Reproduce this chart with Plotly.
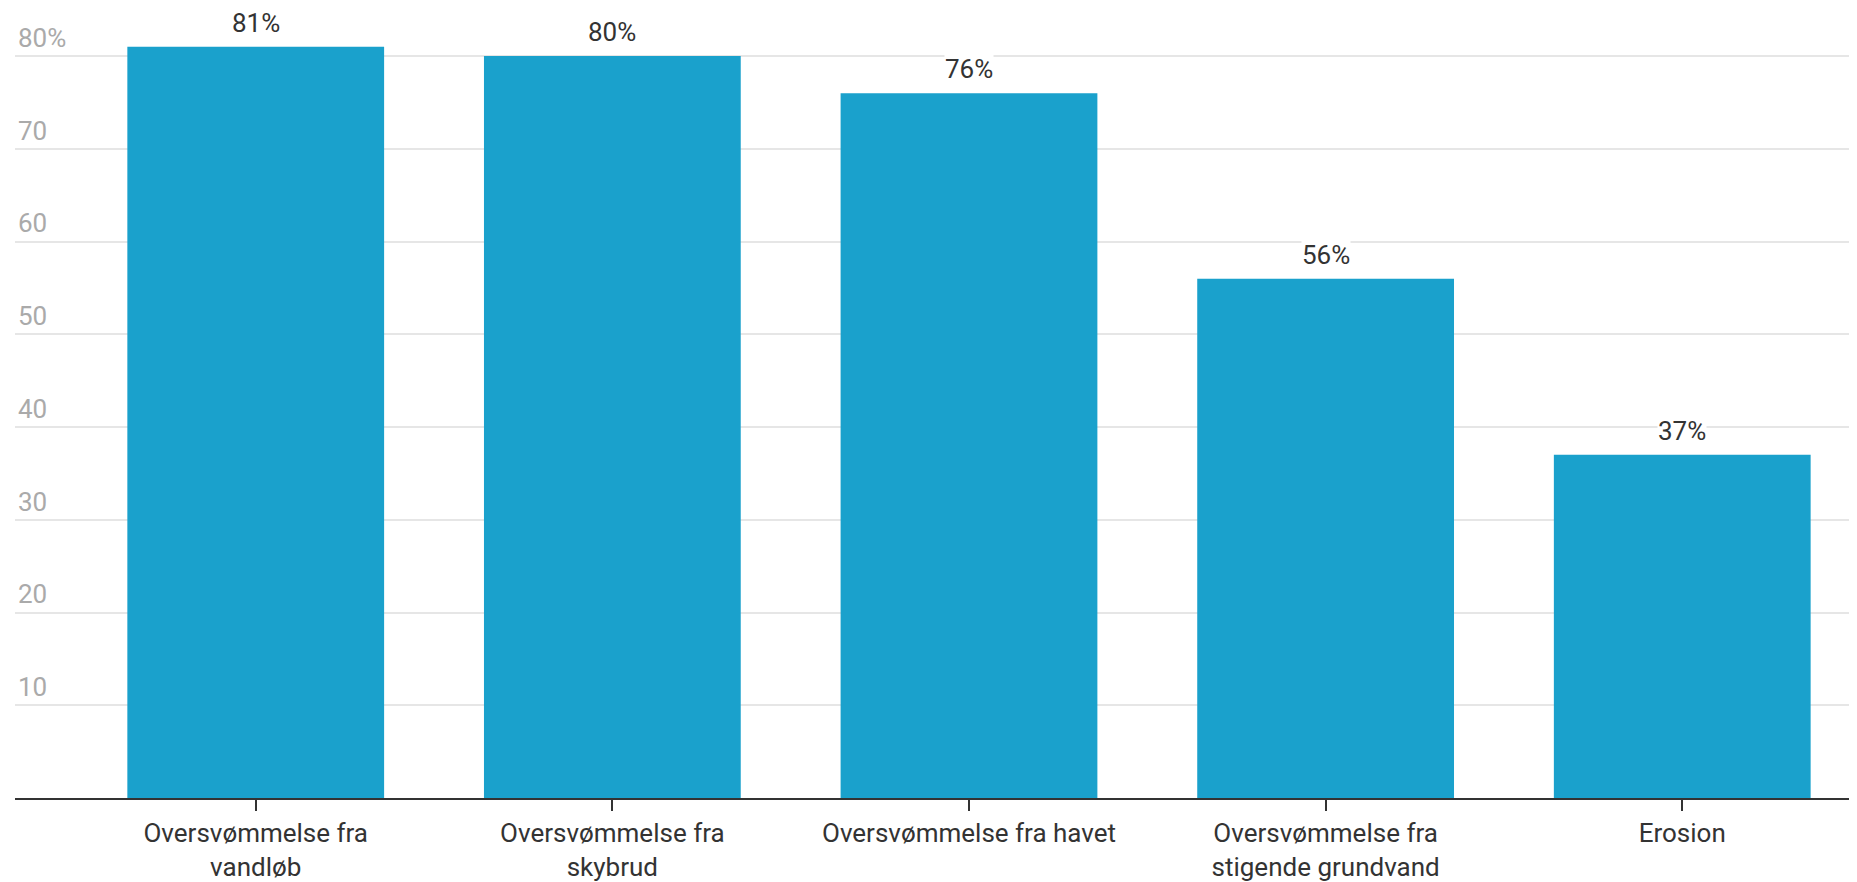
import plotly.graph_objects as go

# Data
categories = [
    "Oversvømmelse fra<br>vandløb",
    "Oversvømmelse fra<br>skybrud",
    "Oversvømmelse fra havet",
    "Oversvømmelse fra<br>stigende grundvand",
    "Erosion",
]
values = [81, 80, 76, 56, 37]

tick_vals = [10, 20, 30, 40, 50, 60, 70, 80]
tick_text = ["10", "20", "30", "40", "50", "60", "70", "80%"]

bar_color = "#1aa1cc"
font_family = "Roboto"

fig = go.Figure()
fig.add_trace(go.Bar(
    x=categories,
    y=values,
    marker=dict(color=bar_color, line=dict(width=0)),
    hoverinfo="skip",
))

# value labels above bars, white background hides the gridlines behind text
for c, v in zip(categories, values):
    fig.add_annotation(
        x=c, y=v, text=f"{v}%",
        showarrow=False, yanchor="bottom", yshift=8,
        bgcolor="white", borderpad=0,
        font=dict(family=font_family, size=26, color="#333333"),
    )

# page body has an 8px margin, so the figure is a bit smaller than the window
fig.update_layout(
    width=1849, height=874,
    margin=dict(l=7, r=0, t=0, b=84),
    paper_bgcolor="white", plot_bgcolor="white",
    bargap=0.28,
    showlegend=False,
    font=dict(family=font_family, size=26, color="#333333"),
)

fig.update_xaxes(
    range=[-0.675, 4.49],
    showline=True, linecolor="#333333", linewidth=2,
    ticks="outside", ticklen=11, tickwidth=1.5, tickcolor="#333333",
    tickfont=dict(family=font_family, size=26, color="#333333"),
    showgrid=False,
)

fig.update_yaxes(
    range=[0, 85.18],
    tickvals=tick_vals, ticktext=tick_text,
    ticklabelposition="inside top",
    tickfont=dict(family=font_family, size=26, color="#aaaaaa"),
    showgrid=True, gridcolor="#e6e6e6", gridwidth=2,
    zeroline=False, showline=False, ticks="",
)

fig.write_html("out.html")
